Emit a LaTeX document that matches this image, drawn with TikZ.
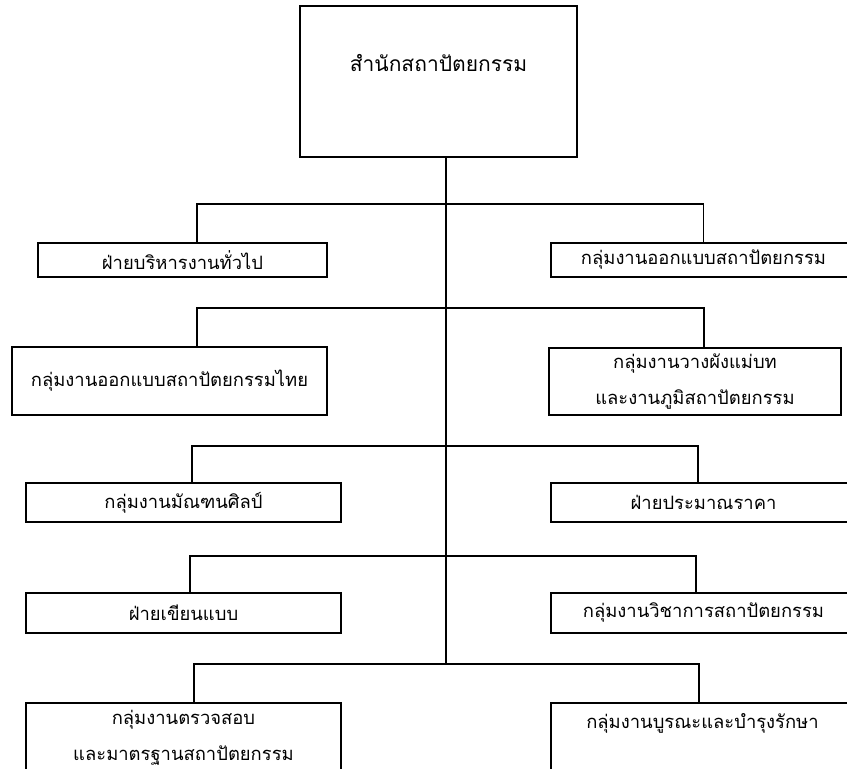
\documentclass[tikz,border=0pt]{standalone}
\usepackage{fontspec}
\newfontfamily\thaifont[Script=Thai]{Loma}
\begin{document}
\begin{tikzpicture}[x=1pt,y=-1pt,
  box/.style={draw=black,line width=1.6pt,rectangle,inner sep=0pt,align=center,
    font=\thaifont\fontsize{18.4}{36}\selectfont},
  lbl/.style={inner sep=0pt,align=center,font=\thaifont\fontsize{18.4}{36}\selectfont},
  wire/.style={draw=black,line width=1.6pt}]
\useasboundingbox (0,0) rectangle (847,769);
\clip (0,0) rectangle (847,769);
% top box
\node[box,minimum width=277pt,minimum height=151pt] (top) at (438.5,81.5) {};
\node[lbl,font=\thaifont\fontsize{21}{36}\selectfont] (toptext) at (438.5,63) {สำนักสถาปัตยกรรม};
% row 1
\node[box,minimum width=289pt,minimum height=34pt] (L1) at (182.5,260) {ฝ่ายบริหารงานทั่วไป};
\node[box,minimum width=305pt,minimum height=34pt] (R1) at (703.5,260) {กลุ่มงานออกแบบสถาปัตยกรรม};
% row 2
\node[box,minimum width=315pt,minimum height=68pt] (L2) at (169.5,381) {กลุ่มงานออกแบบสถาปัตยกรรมไทย};
\node[box,minimum width=292pt,minimum height=67pt] (R2) at (695,381.5) {กลุ่มงานวางผังแม่บท\\และงานภูมิสถาปัตยกรรม};
% row 3
\node[box,minimum width=315pt,minimum height=39pt] (L3) at (183.5,502.5) {กลุ่มงานมัณฑนศิลป์};
\node[box,minimum width=305pt,minimum height=39pt] (R3) at (703.5,502.5) {ฝ่ายประมาณราคา};
% row 4
\node[box,minimum width=315pt,minimum height=40pt] (L4) at (183.5,613) {ฝ่ายเขียนแบบ};
\node[box,minimum width=305pt,minimum height=40pt] (R4) at (703.5,613) {กลุ่มงานวิชาการสถาปัตยกรรม};
% row 5
\node[box,minimum width=315pt,minimum height=70pt] (L5) at (183.5,738) {กลุ่มงานตรวจสอบ\\และมาตรฐานสถาปัตยกรรม};
\node[box,minimum width=305pt,minimum height=100pt] (R5) at (703.5,753) {};
\node[lbl] (R5text) at (702.5,723) {กลุ่มงานบูรณะและบำรุงรักษา};
% spine
\coordinate (spineend) at (446,664);
\draw[wire] (top.south -| spineend) -- (spineend);
% branches
\draw[wire] ([xshift=14.5pt]L1.north) |- (446,204) -| (R1.north);
\draw[wire] ([xshift=27.5pt]L2.north) |- (446,308) -| ([xshift=9pt]R2.north);
\draw[wire] ([xshift=8.5pt]L3.north) |- (446,446) -| ([xshift=-5.5pt]R3.north);
\draw[wire] ([xshift=6.5pt]L4.north) |- (446,556) -| ([xshift=-7.5pt]R4.north);
\draw[wire] ([xshift=10.5pt]L5.north) |- (446,664) -| ([xshift=-4.5pt]R5.north);
\end{tikzpicture}
\end{document}
